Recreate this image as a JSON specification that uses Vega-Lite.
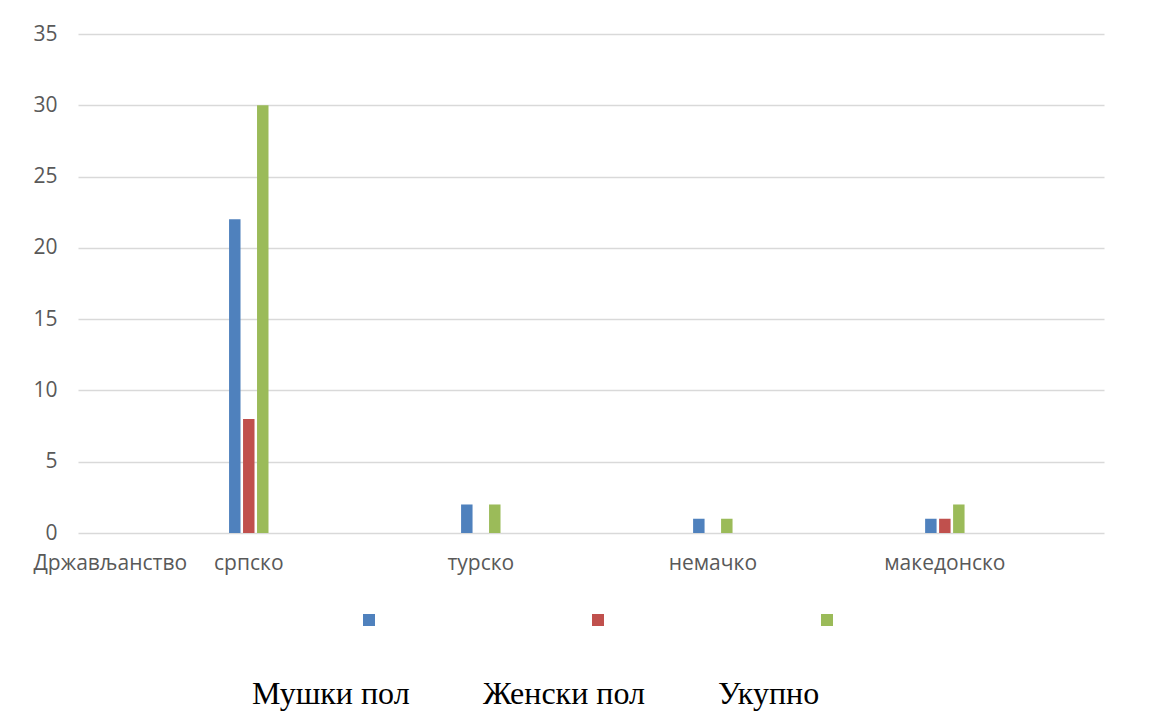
{
  "$schema": "https://vega.github.io/schema/vega-lite/v6.json",
  "autosize": {"type": "none"},
  "padding": {"left": 78, "top": 34, "right": 53, "bottom": 179},
  "width": 1026,
  "height": 499,
  "background": "white",
  "data": {
    "values": [
      {"drzavljanstvo": "српско", "pol": "Мушки пол", "broj": 22},
      {"drzavljanstvo": "српско", "pol": "Женски пол", "broj": 8},
      {"drzavljanstvo": "српско", "pol": "Укупно", "broj": 30},
      {"drzavljanstvo": "турско", "pol": "Мушки пол", "broj": 2},
      {"drzavljanstvo": "турско", "pol": "Женски пол", "broj": 0},
      {"drzavljanstvo": "турско", "pol": "Укупно", "broj": 2},
      {"drzavljanstvo": "немачко", "pol": "Мушки пол", "broj": 1},
      {"drzavljanstvo": "немачко", "pol": "Женски пол", "broj": 0},
      {"drzavljanstvo": "немачко", "pol": "Укупно", "broj": 1},
      {"drzavljanstvo": "македонско", "pol": "Мушки пол", "broj": 1},
      {"drzavljanstvo": "македонско", "pol": "Женски пол", "broj": 1},
      {"drzavljanstvo": "македонско", "pol": "Укупно", "broj": 2}
    ]
  },
  "mark": {"type": "bar"},
  "encoding": {
    "x": {
      "field": "drzavljanstvo",
      "type": "nominal",
      "sort": ["српско", "турско", "немачко", "македонско"],
      "scale": {"paddingInner": 0.83, "paddingOuter": 0.626, "align": 0.52},
      "axis": {
        "title": "Држављанство",
        "titleFont": "Open Sans",
        "titleFontSize": 21,
        "titleFontWeight": "normal",
        "titleColor": "#595959",
        "titleAnchor": "start",
        "titleAlign": "left",
        "titleBaseline": "middle",
        "titleX": -45,
        "titleY": 30,
        "labelAngle": 0,
        "labelFont": "Open Sans",
        "labelFontSize": 21,
        "labelColor": "#595959",
        "labelBaseline": "middle",
        "labelPadding": 30,
        "ticks": false,
        "tickSize": 0,
        "domain": false
      }
    },
    "xOffset": {
      "field": "pol",
      "type": "nominal",
      "sort": ["Мушки пол", "Женски пол", "Укупно"],
      "scale": {"paddingInner": 0.18, "paddingOuter": 0}
    },
    "y": {
      "field": "broj",
      "type": "quantitative",
      "scale": {"domain": [0, 35], "nice": false},
      "axis": {
        "title": null,
        "values": [0, 5, 10, 15, 20, 25, 30, 35],
        "labelFont": "Open Sans",
        "labelFontSize": 21,
        "labelColor": "#595959",
        "labelPadding": 21,
        "ticks": false,
        "tickSize": 0,
        "domain": false,
        "grid": true,
        "gridColor": "#d9d9d9",
        "gridWidth": 1.5
      }
    },
    "color": {
      "field": "pol",
      "type": "nominal",
      "scale": {
        "domain": ["Мушки пол", "Женски пол", "Укупно"],
        "range": ["#4f81bd", "#c0504d", "#9bbb59"]
      },
      "legend": {
        "title": null,
        "orient": "none",
        "legendX": 285,
        "legendY": 580,
        "direction": "horizontal",
        "symbolType": "square",
        "symbolSize": 144,
        "symbolStrokeWidth": 0,
        "labelExpr": "''",
        "labelFontSize": 1,
        "labelOffset": 0,
        "columnPadding": 217,
        "padding": 0
      }
    },
    "opacity": {
      "field": "pol",
      "type": "nominal",
      "sort": ["Мушки пол", "Женски пол", "Укупно"],
      "scale": {"range": [1, 1]},
      "legend": {
        "title": null,
        "orient": "none",
        "legendX": 142,
        "legendY": 644,
        "direction": "horizontal",
        "symbolSize": 0,
        "symbolStrokeWidth": 0,
        "symbolFillColor": "transparent",
        "labelFont": "Liberation Serif",
        "labelFontSize": 32,
        "labelColor": "#000000",
        "labelLimit": 0,
        "labelOffset": 0,
        "columnPadding": 41,
        "padding": 0
      }
    }
  },
  "config": {
    "view": {"stroke": null}
  }
}
